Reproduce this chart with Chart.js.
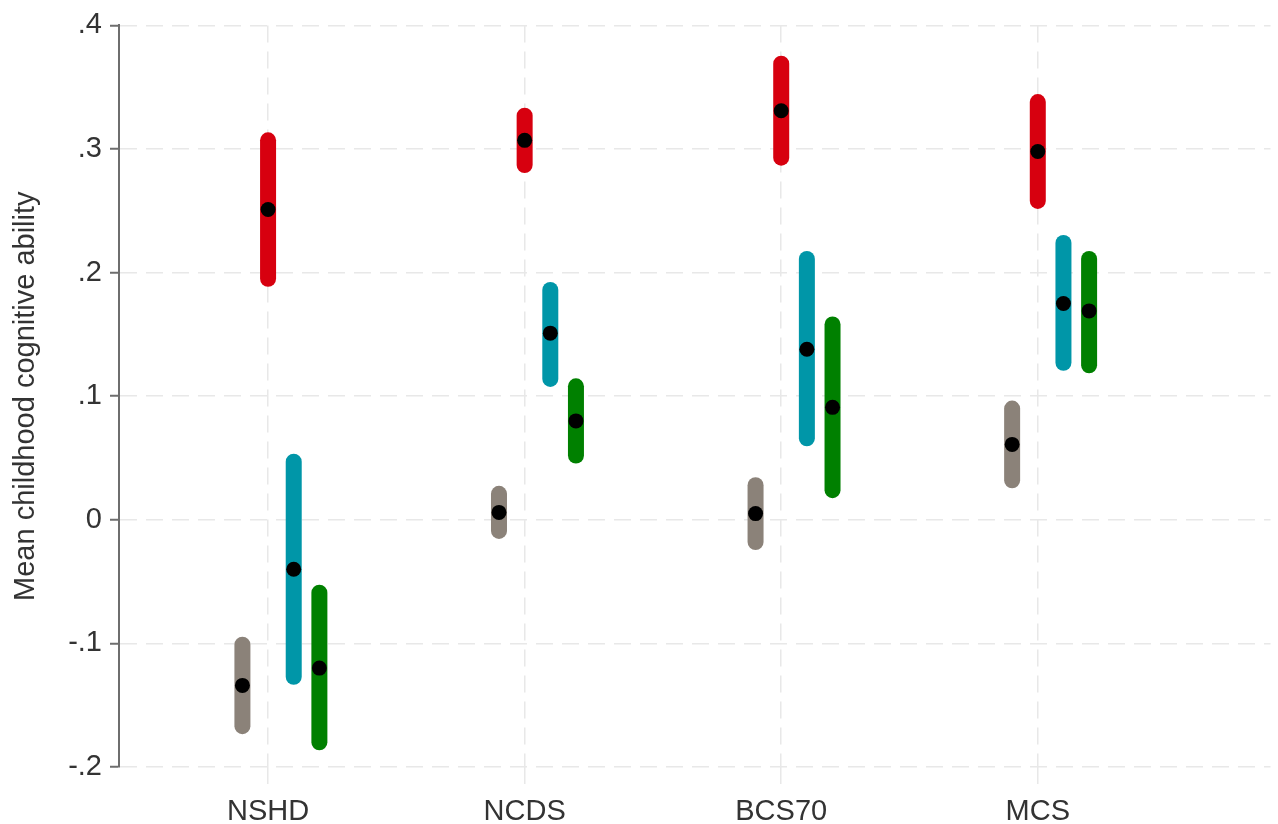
<!DOCTYPE html>
<html>
<head>
<meta charset="utf-8">
<script src="https://cdn.jsdelivr.net/npm/chart.js@4/dist/chart.umd.min.js"></script>
<style>
    html, body { margin: 0; padding: 0; background: #fff; }
    canvas { display: block; }
</style>
</head>
<body>
<canvas id="chart" width="1278" height="824"></canvas>
<script>
const cohorts = ['NSHD', 'NCDS', 'BCS70', 'MCS'];
const yTickValues = [-0.2, -0.1, 0, 0.1, 0.2, 0.3, 0.4];
const yTickLabels = ['-.2', '-.1', '0', '.1', '.2', '.3', '.4'];

// groups, in drawing order left to right within each cohort
const groupColors = ['#8b8279', '#d7000f', '#0096a8', '#008000'];
const groupOffsets = [-0.1, 0, 0.1, 0.2];

// means per group, one value per cohort
const meanGrey  = [-0.134, 0.006, 0.005, 0.061];
const meanRed   = [0.251, 0.307, 0.331, 0.298];
const meanTeal  = [-0.040, 0.151, 0.138, 0.175];
const meanGreen = [-0.120, 0.080, 0.091, 0.169];

// 95% CI bounds
const loGrey  = [-0.167, -0.009, -0.018, 0.032];
const hiGrey  = [-0.101, 0.021, 0.028, 0.090];
const loRed   = [0.195, 0.287, 0.293, 0.258];
const hiRed   = [0.307, 0.327, 0.369, 0.338];
const loTeal  = [-0.127, 0.114, 0.066, 0.127];
const hiTeal  = [0.047, 0.186, 0.211, 0.224];
const loGreen = [-0.180, 0.052, 0.024, 0.125];
const hiGreen = [-0.059, 0.108, 0.158, 0.211];

const means = [meanGrey, meanRed, meanTeal, meanGreen];
const lows = [loGrey, loRed, loTeal, loGreen];
const highs = [hiGrey, hiRed, hiTeal, hiGreen];

const datasets = [];
const dots = [];

means.forEach((m, g) => {
    cohorts.forEach((c, i) => {
        const x = i + 1 + groupOffsets[g];
        datasets.push({
            type: 'line',
            data: [{ x: x, y: lows[g][i] }, { x: x, y: highs[g][i] }],
            borderColor: groupColors[g],
            borderWidth: 16,
            borderCapStyle: 'round',
            pointRadius: 0,
            fill: false,
            order: 1
        });
        dots.push({ x: x, y: m[i] });
    });
});

datasets.push({
    type: 'scatter',
    data: dots,
    pointRadius: 7.5,
    pointBackgroundColor: '#000',
    pointBorderWidth: 0,
    order: -1
});

const gridDash = [17, 9];
const font = 'Liberation Sans, Arial, sans-serif';

new Chart(document.getElementById('chart').getContext('2d'), {
    type: 'line',
    data: { datasets: datasets },
    options: {
        responsive: false,
        animation: false,
        maintainAspectRatio: false,
        layout: { padding: { top: 25, right: 0, left: 0, bottom: 0 } },
        plugins: {
            legend: { display: false },
            tooltip: { enabled: false }
        },
        scales: {
            x: {
                type: 'linear',
                min: 0.419,
                max: 4.907,
                afterBuildTicks: (scale) => {
                    scale.ticks = cohorts.map((c, i) => ({ value: i + 1 }));
                },
                afterFit: (scale) => { scale.height = 57; },
                border: { display: false, dash: gridDash },
                grid: {
                    color: '#e8e8e8',
                    lineWidth: 1.5,
                    tickLength: 18,
                    tickColor: '#e8e8e8',
                    tickBorderDash: gridDash
                },
                ticks: {
                    autoSkip: false,
                    maxRotation: 0,
                    padding: 10,
                    color: '#333',
                    font: { family: font, size: 29 },
                    callback: (v) => cohorts[Math.round(v) - 1]
                }
            },
            y: {
                min: -0.2,
                max: 0.4,
                afterBuildTicks: (scale) => {
                    scale.ticks = yTickValues.map(v => ({ value: v }));
                },
                afterFit: (scale) => { scale.width = 119; },
                border: { display: true, color: '#6e6e6e', width: 2, dash: gridDash },
                grid: {
                    color: '#e8e8e8',
                    lineWidth: 1.5,
                    tickLength: 9,
                    tickColor: '#6e6e6e',
                    tickWidth: 2,
                    tickBorderDash: []
                },
                ticks: {
                    padding: 8,
                    color: '#333',
                    font: { family: font, size: 29 },
                    callback: (v) => yTickLabels[yTickValues.findIndex(t => Math.abs(t - v) < 1e-9)]
                },
                title: {
                    display: true,
                    text: 'Mean childhood cognitive ability',
                    color: '#333',
                    padding: { top: 9, bottom: 2 },
                    font: { family: font, size: 29 }
                }
            }
        }
    }
});
</script>
</body>
</html>
